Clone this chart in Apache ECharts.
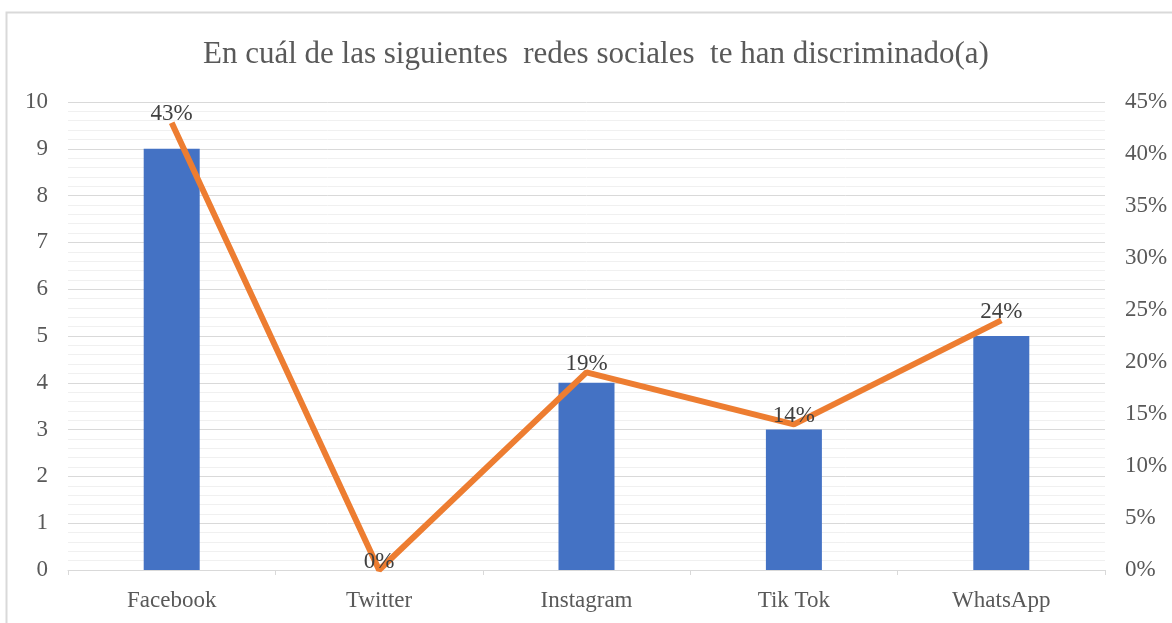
<!DOCTYPE html>
<html>
<head>
<meta charset="utf-8">
<script src="https://cdn.jsdelivr.net/npm/echarts@6/dist/echarts.min.js"></script>
<style>
  html, body { margin: 0; padding: 0; background: #fff; }
  #chart { width: 1172px; height: 623px; }
</style>
</head>
<body>
<div id="chart"></div>
<script>
  const redes = ['Facebook', 'Twitter', 'Instagram', 'Tik Tok', 'WhatsApp'];
  const cantidad = [9, 0, 4, 3, 5];
  const porcentaje = [0.43, 0, 0.19, 0.14, 0.24];

  const chart = echarts.init(document.getElementById('chart'));
  const fuente = "'Liberation Serif', 'DejaVu Serif', serif";
  const gris = '#595959';

  const option = {
    animation: false,
    textStyle: { fontFamily: fuente },
    graphic: [{
      type: 'rect',
      shape: { x: 6.5, y: 12.5, width: 1200, height: 700 },
      style: { fill: 'none', stroke: '#D9D9D9', lineWidth: 2 },
      silent: true
    }],
    title: {
      text: 'En cuál de las siguientes  redes sociales  te han discriminado(a)',
      left: 198,
      top: 34,
      textStyle: { fontFamily: fuente, fontSize: 31, fontWeight: 'normal', color: gris }
    },
    grid: { left: 68, right: 67, top: 102, bottom: 53 },
    xAxis: {
      type: 'category',
      data: redes,
      axisLine: { lineStyle: { color: '#D9D9D9', width: 1 } },
      axisTick: { show: true, length: 5, lineStyle: { color: '#D9D9D9' } },
      axisLabel: { color: gris, fontSize: 23, fontFamily: fuente, margin: 19 }
    },
    yAxis: [{
      type: 'value',
      min: 0, max: 10, interval: 1,
      axisLine: { show: false },
      axisTick: { show: false },
      axisLabel: { color: gris, fontSize: 23, fontFamily: fuente, margin: 20 },
      splitLine: { lineStyle: { color: '#D9D9D9', width: 1 } },
      minorTick: { show: false, splitNumber: 5 },
      minorSplitLine: { show: true, lineStyle: { color: '#F0F0F0', width: 1 } }
    }, {
      type: 'value',
      min: 0, max: 0.45, interval: 0.05,
      axisLine: { show: false },
      axisTick: { show: false },
      splitLine: { show: false },
      axisLabel: {
        color: gris, fontSize: 23, fontFamily: fuente, margin: 20,
        formatter: v => Math.round(v * 100) + '%'
      }
    }],
    series: [{
      type: 'bar',
      data: cantidad,
      barWidth: 56,
      itemStyle: { color: '#4472C4' }
    }, {
      type: 'line',
      yAxisIndex: 1,
      data: porcentaje,
      symbol: 'circle',
      symbolSize: 2,
      showSymbol: true,
      itemStyle: { color: 'rgba(237,125,49,0)' },
      lineStyle: { color: '#ED7D31', width: 6 },
      label: {
        show: true,
        position: 'top',
        distance: -4,
        color: '#404040',
        fontSize: 23,
        fontFamily: fuente,
        formatter: p => Math.round(p.value * 100) + '%'
      }
    }]
  };

  chart.setOption(option);
  window.addEventListener('resize', function () {
    chart.resize();
  });
</script>
</body>
</html>
